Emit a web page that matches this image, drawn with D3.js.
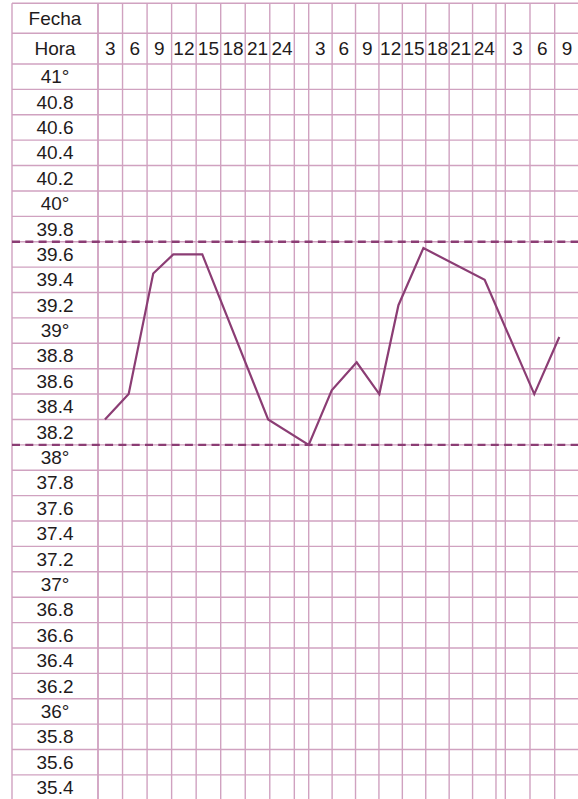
<!DOCTYPE html>
<html>
<head>
<meta charset="utf-8">
<script src="https://cdn.jsdelivr.net/npm/d3@7"></script>
<style>
  html, body { margin: 0; padding: 0; background: #fff; }
  svg { display: block; }
  text { font-family: "Liberation Sans", Arial, sans-serif; fill: #1f1b1c; }
</style>
</head>
<body>
<script>
// Hour headings for each day column group
const horasDia = [3, 6, 9, 12, 15, 18, 21, 24];
// Number of visible hour columns per day
const columnasPorDia = [8, 8, 3];
// Temperature row labels, top to bottom
const etiquetasTemp = ["41°", "40.8", "40.6", "40.4", "40.2", "40°", "39.8", "39.6", "39.4", "39.2",
  "39°", "38.8", "38.6", "38.4", "38.2", "38°", "37.8", "37.6", "37.4", "37.2",
  "37°", "36.8", "36.6", "36.4", "36.2", "36°", "35.8", "35.6", "35.4"];
const valoresTemp = [41, 40.8, 40.6, 40.4, 40.2, 40, 39.8, 39.6, 39.4, 39.2,
  39, 38.8, 38.6, 38.4, 38.2, 38, 37.8, 37.6, 37.4, 37.2,
  37, 36.8, 36.6, 36.4, 36.2, 36, 35.8, 35.6, 35.4];
// Recorded readings: day index, hour of day, temperature
const dias = [0, 0, 0, 0, 0, 0, 1, 1, 1, 1, 1, 1, 1, 2, 2];
const horas = [0.85, 3.75, 6.75, 9.2, 12.75, 20.8, 0, 2.95, 6.15, 9.05, 11.5, 14.7, 22.55, 3.52, 6.56];
const temperaturas = [38.2, 38.4, 39.35, 39.5, 39.5, 38.2, 38.0, 38.43, 38.65, 38.4, 39.1, 39.55, 39.3, 38.4, 38.85];
// Reference thresholds drawn as dashed lines
const umbrales = [39.6, 38.0];

const W = 578, H = 799;
const gridColor = "#d0a2c0";
const lineColor = "#8b3d74";
const left = 12, labelRight = 98;
const topY = 3.3, headY = 33.3, bodyTop = 64, rowH = 25.39;
const dayStart = [98, 308.7, 505.3];
const colW = [24.54, 23.41, 24.7];

const svg = d3.select("body").append("svg")
  .attr("width", W).attr("height", H);

// Temperature scale: each label sits on the top edge of its row
const y = d3.scaleLinear()
  .domain([valoresTemp[0], valoresTemp[valoresTemp.length - 1]])
  .range([bodyTop, bodyTop + (valoresTemp.length - 1) * rowH]);

// One time scale per day (hours 0–24 across eight 3-hour columns)
const xDia = dayStart.map((s, i) => d3.scaleLinear().domain([0, 24]).range([s, s + 8 * colW[i]]));
const x = (d, h) => xDia[d](h);

const grid = svg.append("g").attr("stroke", gridColor).attr("stroke-width", 1.4);

// Horizontal rules
const hLines = [topY, headY].concat(valoresTemp.map(v => y(v))).concat([y(valoresTemp[valoresTemp.length - 1]) + rowH]);
grid.selectAll("line.h").data(hLines).join("line")
  .attr("class", "h")
  .attr("x1", left).attr("x2", W)
  .attr("y1", d => d).attr("y2", d => d);

// Vertical rules: borders, column edges and day separators
const vLines = [left, labelRight];
columnasPorDia.forEach((n, d) => {
  const cols = d === columnasPorDia.length - 1 ? n : 8;
  for (let i = 0; i <= cols; i++) vLines.push(x(d, i * 3));
});
grid.selectAll("line.v").data(vLines).join("line")
  .attr("class", "v")
  .attr("x1", d => d).attr("x2", d => d)
  .attr("y1", topY).attr("y2", H);

// Header labels
const fs = 19;
svg.append("text").attr("x", (left + labelRight) / 2).attr("y", (topY + headY) / 2)
  .attr("text-anchor", "middle").attr("dominant-baseline", "central")
  .attr("font-size", fs).text("Fecha");
svg.append("text").attr("x", (left + labelRight) / 2).attr("y", (headY + bodyTop) / 2)
  .attr("text-anchor", "middle").attr("dominant-baseline", "central")
  .attr("font-size", fs).text("Hora");

// Hour headings
const horaCeldas = [];
columnasPorDia.forEach((n, d) => {
  for (let i = 0; i < n; i++) horaCeldas.push({ d, h: horasDia[i] });
});
svg.append("g").selectAll("text").data(horaCeldas).join("text")
  .attr("x", c => x(c.d, c.h - 1.5))
  .attr("y", (headY + bodyTop) / 2)
  .attr("text-anchor", "middle").attr("dominant-baseline", "central")
  .attr("font-size", fs)
  .text(c => c.h);

// Temperature labels centred in their rows
svg.append("g").selectAll("text").data(etiquetasTemp).join("text")
  .attr("x", (left + labelRight) / 2)
  .attr("y", (t, i) => y(valoresTemp[i]) + rowH / 2)
  .attr("text-anchor", "middle").attr("dominant-baseline", "central")
  .attr("font-size", fs)
  .text(t => t);

// Dashed threshold lines
svg.append("g").selectAll("line").data(umbrales).join("line")
  .attr("x1", left).attr("x2", W)
  .attr("y1", v => y(v)).attr("y2", v => y(v))
  .attr("stroke", lineColor).attr("stroke-width", 2.4)
  .attr("stroke-dasharray", "8,5.3");

// Temperature curve
const puntos = temperaturas.map((t, i) => [x(dias[i], horas[i]), y(t)]);
svg.append("path")
  .attr("d", d3.line()(puntos))
  .attr("fill", "none")
  .attr("stroke", lineColor)
  .attr("stroke-width", 2.2)
  .attr("stroke-linejoin", "miter");
</script>
</body>
</html>
